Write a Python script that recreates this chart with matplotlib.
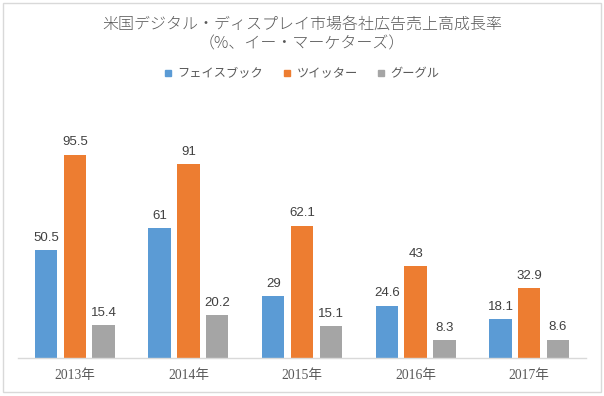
import matplotlib
matplotlib.use("Agg")
import matplotlib.pyplot as plt
from matplotlib.lines import Line2D
from matplotlib.patches import Rectangle
import numpy as np

years = ["2013年", "2014年", "2015年", "2016年", "2017年"]
series_names = ["フェイスブック", "ツイッター", "グーグル"]
facebook = [50.5, 61, 29, 24.6, 18.1]
twitter = [95.5, 91, 62.1, 43, 32.9]
google = [15.4, 20.2, 15.1, 8.3, 8.6]
colors = ["#5B9BD5", "#ED7D31", "#A5A5A5"]

plt.rcParams['font.family'] = ['Noto Sans CJK JP', 'DejaVu Sans']

fig = plt.figure(figsize=(6.04, 3.96), dpi=100)
ax = fig.add_axes([18 / 604, 38 / 396, 568 / 604, 248 / 396])

x = np.arange(len(years))
width = 0.197
step = 0.253
for k, (vals, col) in enumerate(zip([facebook, twitter, google], colors)):
    pos = x + (k - 1) * step
    ax.bar(pos, vals, width, color=col, zorder=2)
    for xi, v in zip(pos, vals):
        ax.annotate("{:g}".format(v), (xi, v), xytext=(0, 4.5), textcoords="offset points",
                    ha="center", va="bottom", fontsize=9.5, color="#404040",
                    family=['Liberation Sans', 'DejaVu Sans'])

ax.set_xlim(-0.5, len(years) - 0.5)
ax.set_ylim(0, 116.4)
ax.set_yticks([])
ax.set_xticks(x)
ax.set_xticklabels(years, family=['Liberation Serif', 'Noto Sans CJK JP'], fontsize=9.8, color="#595959")
ax.tick_params(axis='x', length=0, pad=8)
for s in ["top", "right", "left"]:
    ax.spines[s].set_visible(False)
ax.spines["bottom"].set_color("#d9d9d9")
ax.spines["bottom"].set_linewidth(1.0)

fig.text(0.5, 1 - 25 / 396, "米国デジタル・ディスプレイ市場各社広告売上高成長率",
         ha="center", va="center", fontsize=11.5, color="#595959", fontweight="light")
fig.text(0.5, 1 - 44 / 396, "（%、イー・マーケターズ）",
         ha="center", va="center", fontsize=11.5, color="#595959", fontweight="light")

handles = [Line2D([], [], marker='s', linestyle='', markersize=5, color=c) for c in colors]
fig.legend(handles, series_names, loc="center", bbox_to_anchor=(0.5, 1 - 74 / 396), ncol=3,
           frameon=False, fontsize=8.8, handlelength=0.6, handletextpad=0.5,
           columnspacing=1.6, labelcolor="#595959")

fig.add_artist(Rectangle((3 / 604, 4 / 396), 598 / 604, 389 / 396, fill=False,
                         edgecolor="#d9d9d9", linewidth=1, transform=fig.transFigure))

fig.savefig("out.png", dpi=100, facecolor="white")
